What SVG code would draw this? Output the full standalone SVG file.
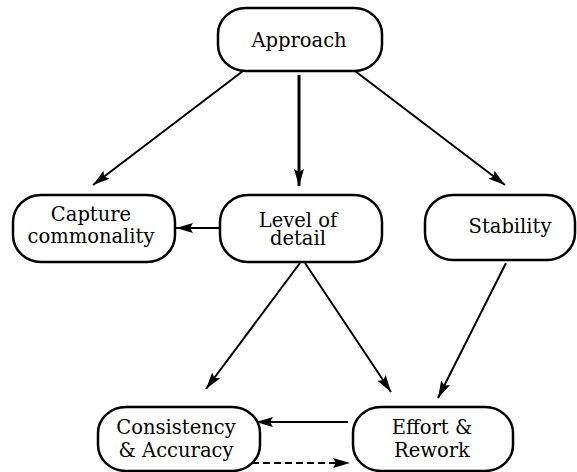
<svg xmlns="http://www.w3.org/2000/svg" width="577" height="472" viewBox="0 0 577 472">
  <style>
    .box { fill: #ffffff; stroke: #000000; stroke-width: 2.5; }
    .lbl { font-size: 19.5px; fill: #000000; text-anchor: middle; }
    .edge { fill: none; stroke: #000000; stroke-width: 2; }
    .thick { stroke-width: 3; }
    .dash { stroke-dasharray: 7 4; }
  </style>
  <defs>
    <marker id="arrow" markerUnits="userSpaceOnUse" markerWidth="18" markerHeight="12" refX="17" refY="6" orient="auto" viewBox="0 0 18 12">
      <path d="M0,1 L17,6 L0,11 L3,6 Z" fill="#000000"/>
    </marker>
  </defs>
  <rect width="577" height="472" fill="#ffffff"/>

  <g id="connectors">
    <line class="edge" x1="243" y1="71" x2="93" y2="185" marker-end="url(#arrow)"/>
    <line class="edge thick" x1="299" y1="75" x2="299" y2="186" marker-end="url(#arrow)"/>
    <line class="edge" x1="355" y1="71" x2="505" y2="185" marker-end="url(#arrow)"/>
    <line class="edge" x1="220" y1="228" x2="176" y2="228" marker-end="url(#arrow)"/>
    <line class="edge" x1="300" y1="263" x2="206" y2="389" marker-end="url(#arrow)"/>
    <line class="edge" x1="305" y1="263" x2="391" y2="392" marker-end="url(#arrow)"/>
    <line class="edge" x1="506" y1="263" x2="438" y2="398" marker-end="url(#arrow)"/>
    <line class="edge" x1="348" y1="422" x2="256" y2="422" marker-end="url(#arrow)"/>
    <line class="edge dash" x1="252" y1="463" x2="350" y2="463" marker-end="url(#arrow)"/>
  </g>

  <g font-family="DejaVu Serif">
    <g id="approach">
      <rect class="box" x="218" y="8" width="164" height="63" rx="28" ry="26"/>
      <text class="lbl" x="299" y="47">Approach</text>
    </g>
    <g id="capture">
      <rect class="box" x="13" y="195" width="162" height="67" rx="28" ry="27"/>
      <text class="lbl" x="91" y="221">Capture</text>
      <text class="lbl" x="91" y="243">commonality</text>
    </g>
    <g id="level">
      <rect class="box" x="220" y="195" width="162" height="67" rx="28" ry="27"/>
      <text class="lbl" x="298" y="227">Level of</text>
      <text class="lbl" x="298" y="245">detail</text>
    </g>
    <g id="stability">
      <rect class="box" x="425" y="195" width="150" height="65" rx="28" ry="27"/>
      <text class="lbl" x="510" y="233">Stability</text>
    </g>
    <g id="consistency">
      <rect class="box" x="98" y="407" width="162" height="64" rx="28" ry="26"/>
      <text class="lbl" x="176" y="434">Consistency</text>
      <text class="lbl" x="176" y="457">&amp; Accuracy</text>
    </g>
    <g id="effort">
      <rect class="box" x="353" y="407" width="160" height="64" rx="28" ry="26"/>
      <text class="lbl" x="432" y="434">Effort &amp;</text>
      <text class="lbl" x="432" y="457">Rework</text>
    </g>
  </g>
</svg>
